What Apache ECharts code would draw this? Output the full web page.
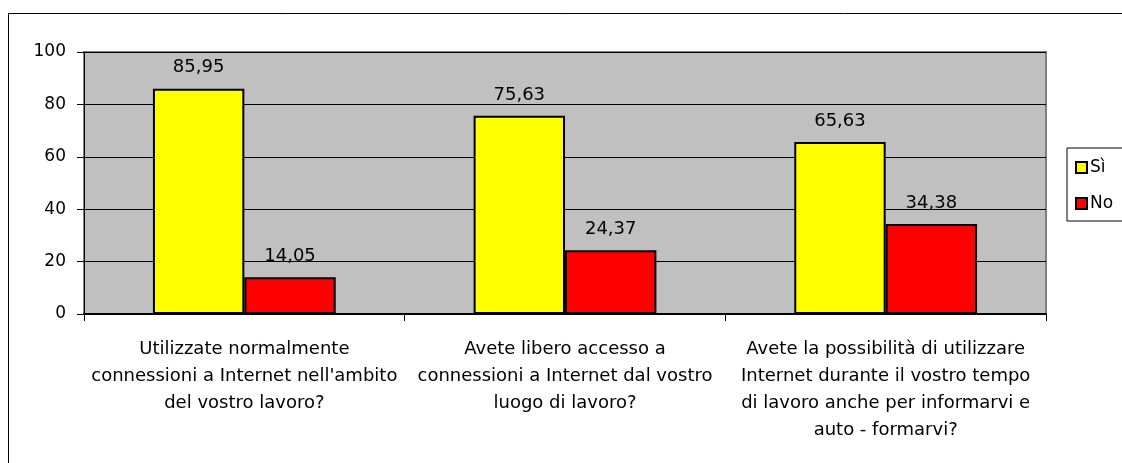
<!DOCTYPE html>
<html>
<head>
<meta charset="utf-8">
<script src="https://cdn.jsdelivr.net/npm/echarts@6/dist/echarts.min.js"></script>
<style>
  html, body { margin: 0; padding: 0; background: #fff; }
  #chart { width: 1122px; height: 463px; }
</style>
</head>
<body>
<div id="chart"></div>
<script>
// domande del questionario
const categories = [
  "Utilizzate normalmente\nconnessioni a Internet nell'ambito\ndel vostro lavoro?",
  "Avete libero accesso a\nconnessioni a Internet dal vostro\nluogo di lavoro?",
  "Avete la possibilità di utilizzare\nInternet durante il vostro tempo\ndi lavoro anche per informarvi e\nauto - formarvi?"
];
const siValues = [85.95, 75.63, 65.63];
const noValues = [14.05, 24.37, 34.38];
const seriesNames = ["Sì", "No"];

const FONT = "DejaVu Sans";

// 85.95 -> "85,95"
const fmt = (p) => p.value.toFixed(2).replace(".", ",");

const barSeries = (name, data, color) => ({
  name: name,
  type: "bar",
  data: data,
  barGap: "0%",
  barCategoryGap: "43%",
  itemStyle: { color: color, borderColor: "#000", borderWidth: 2 },
  label: {
    show: true,
    position: "top",
    distance: 12,
    color: "#000",
    fontFamily: FONT,
    fontSize: 18,
    formatter: fmt
  }
});

const myChart = echarts.init(document.getElementById("chart"));
myChart.setOption({
  backgroundColor: "#fff",
  animation: false,
  graphic: [{
    type: "rect",
    z: -10,
    shape: { x: 8.5, y: 13.5, width: 1200, height: 600 },
    style: { fill: "none", stroke: "#000", lineWidth: 1 }
  }],
  grid: {
    left: 84, right: 76, top: 52, bottom: 149,
    show: true,
    backgroundColor: "#c0c0c0",
    borderColor: "#808080",
    borderWidth: 2
  },
  legend: {
    data: seriesNames,
    orient: "vertical",
    left: 1067,
    top: 148,
    padding: [11, 30, 9, 8],
    itemGap: 19,
    itemWidth: 11,
    itemHeight: 11,
    icon: "rect",
    borderColor: "#000",
    borderWidth: 1,
    textStyle: { fontFamily: FONT, fontSize: 17, color: "#000", padding: [0, 0, 0, -2] }
  },
  xAxis: {
    type: "category",
    data: categories,
    axisLine: { show: true, lineStyle: { color: "#000", width: 2 } },
    axisTick: { show: true, length: 7, lineStyle: { color: "#000" } },
    axisLabel: {
      interval: 0,
      margin: 22,
      color: "#000",
      fontFamily: FONT,
      fontSize: 18,
      lineHeight: 27
    }
  },
  yAxis: {
    type: "value",
    min: 0,
    max: 100,
    interval: 20,
    axisLine: { show: true, lineStyle: { color: "#000" } },
    axisTick: { show: true, length: 7, lineStyle: { color: "#000" } },
    splitLine: { lineStyle: { color: "#000", width: 1 } },
    axisLabel: { color: "#000", fontFamily: FONT, fontSize: 17, margin: 18 }
  },
  series: [
    barSeries(seriesNames[0], siValues, "#ffff00"),
    barSeries(seriesNames[1], noValues, "#ff0000")
  ]
});
</script>
</body>
</html>
